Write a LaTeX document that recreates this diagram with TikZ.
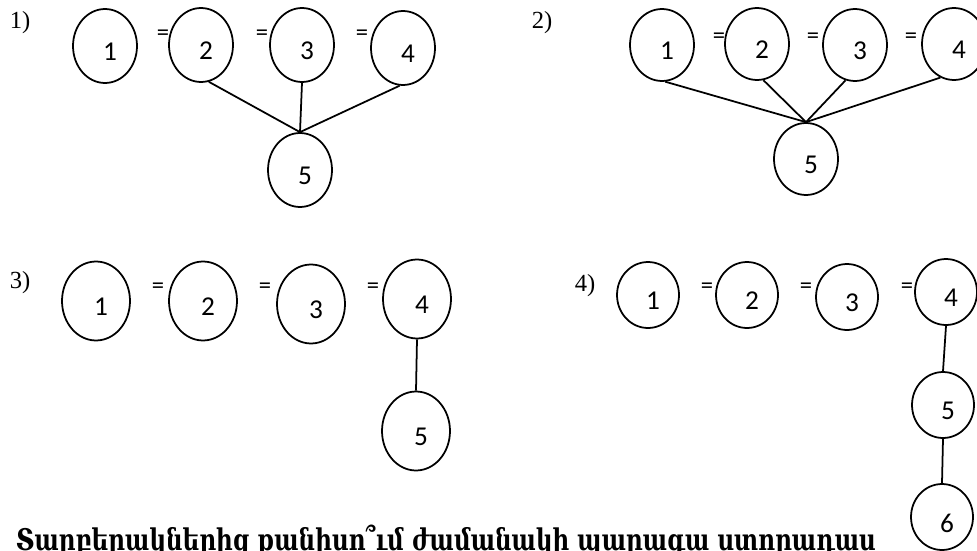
\documentclass[tikz,border=0pt]{standalone}
\usepackage{fontspec}
\usepackage{graphicx}
\setmainfont{Liberation Serif}
\newfontfamily\digfont{Carlito}
\newfontfamily\armfont{DejaVu Serif}
\usetikzlibrary{shapes.geometric}

\begin{document}
\begin{tikzpicture}[x=0.02cm, y=-0.02cm, line width=1pt,
  blob/.style = {shape=ellipse, draw, inner sep=0pt,
    minimum width=1.28cm, minimum height=1.48cm,
    label={[font=\digfont\fontsize{15.5}{18}\selectfont,
      xshift=0.1cm, yshift=-0.12cm]center:#1}},
  eqs/.style = {font=\digfont\fontsize{14}{16}\selectfont, inner sep=0pt},
  tag/.style = {font=\fontsize{14}{16}\selectfont, inner sep=0pt}]
  \useasboundingbox (0,0) rectangle (977,551);

  % 1)
  \node[tag] (t1) at (20,23) {1)};
  \node[blob=1] (b1) at (105,46) {};
  \node[blob=2] (b2) at (201,45) {};
  \node[blob=3] (b3) at (302,45) {};
  \node[blob=4] (b4) at (403,48) {};
  \node[blob=5] (b5) at (300,170) {};
  \node[eqs] at (163,35) {=};
  \node[eqs] at (262,35) {=};
  \node[eqs] at (362,35) {=};
  \draw (b2.-78) -- (b5.north);
  \draw (b3.south) -- (b5.north);
  \draw (b4.-95) -- (b5.north);

  % 2)
  \begin{scope}[blob/.append style={minimum height=1.44cm}]
  \node[tag] (t2) at (542,23) {2)};
  \node[blob=1] (c1) at (662,45) {};
  \node[blob=2] (c2) at (757,44) {};
  \node[blob=3] (c3) at (855,45) {};
  \node[blob=4] (c4) at (954,44) {};
  \node[blob=5] (c5) at (806,159) {};
  \node[eqs] at (719,38) {=};
  \node[eqs] at (813,38) {=};
  \node[eqs] at (911,38) {=};
  \draw (c1.-85) -- (c5.north);
  \draw (c2.-80) -- (c5.north);
  \draw (c3.-105) -- (c5.north);
  \draw (c4.-112) -- (c5.north);
  \end{scope}

  % 3)
  \begin{scope}[blob/.append style={minimum width=1.36cm, minimum height=1.58cm}]
  \node[tag] (t3) at (20,283) {3)};
  \node[blob=1] (d1) at (96,301) {};
  \node[blob=2] (d2) at (203,301) {};
  \node[blob=3] (d3) at (311,304) {};
  \node[blob=4] (d4) at (417,299) {};
  \node[blob=5] (d5) at (416,431) {};
  \node[eqs] at (158,288) {=};
  \node[eqs] at (265,288) {=};
  \node[eqs] at (373,288) {=};
  \draw (d4.south) -- (d5.north);
  \end{scope}

  % 4)
  \begin{scope}[blob/.append style={minimum width=1.24cm, minimum height=1.32cm}]
  \node[tag] (t4) at (585,286) {4)};
  \node[blob=1] (f1) at (648,295) {};
  \node[blob=2] (f2) at (747,295) {};
  \node[blob=3] (f3) at (847,297) {};
  \node[blob=4] (f4) at (946,292) {};
  \node[blob=5] (f5) at (943,405) {};
  \node[blob=6] (f6) at (942,517) {};
  \node[eqs] at (707,288) {=};
  \node[eqs] at (806,288) {=};
  \node[eqs] at (907,288) {=};
  \draw (f4.south) -- (f5.north);
  \draw (f5.south) -- (f6.north);
  \end{scope}

  \node[anchor=base west, inner sep=0pt] (q) at (15,550)
    {\resizebox{17.2cm}{\height}{\armfont\bfseries\fontsize{17}{20}\selectfont
      Տարբերակներից քանիսո՞ւմ ժամանակի պարագա ստորադաս}};
\end{tikzpicture}
\end{document}
